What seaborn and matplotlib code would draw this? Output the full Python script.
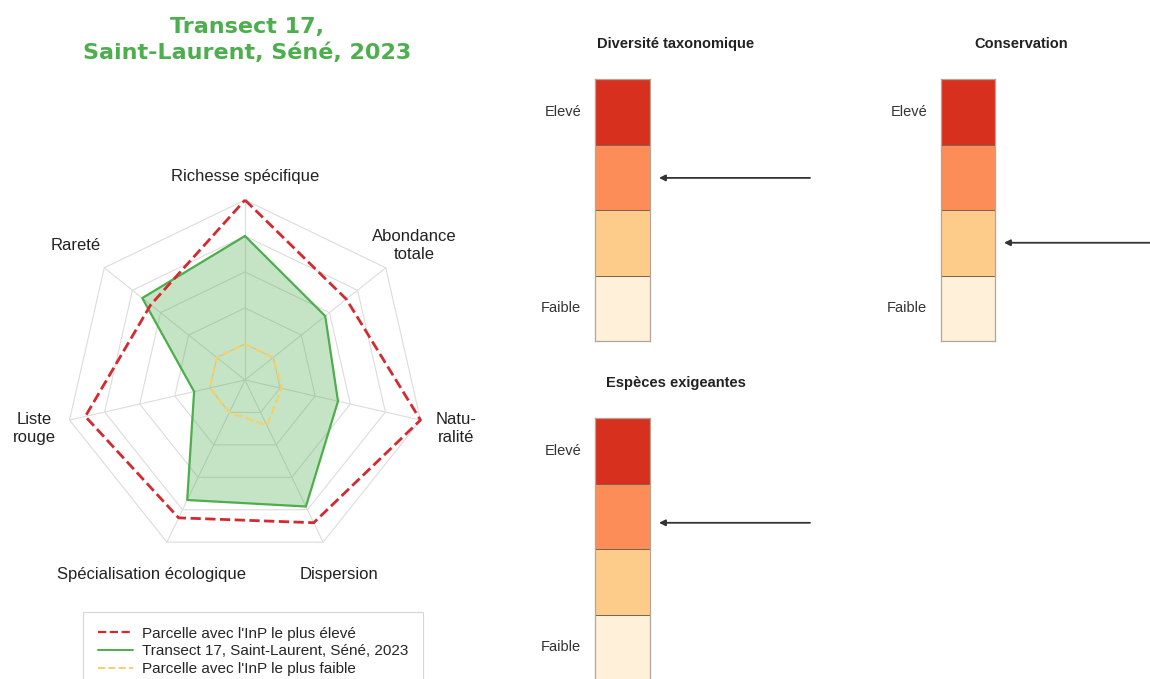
import numpy as np
import matplotlib
matplotlib.use("Agg")
import matplotlib.pyplot as plt
from matplotlib.colors import ListedColormap
from matplotlib.lines import Line2D
import seaborn as sns

# ---------------- data ----------------
title_text = "Transect 17,\nSaint-Laurent, Séné, 2023"
radar_labels = ["Richesse spécifique", "Abondance\ntotale", "Natu-\nralité", "Dispersion",
                "Spécialisation écologique", "Liste\nrouge", "Rareté"]
max_values = [1.00, 0.72, 1.00, 0.88, 0.85, 0.91, 0.67]
site_values = [0.80, 0.57, 0.53, 0.78, 0.74, 0.29, 0.73]
min_values = [0.20, 0.20, 0.21, 0.28, 0.20, 0.20, 0.20]
grid_levels = [0.2, 0.4, 0.6, 0.8, 1.0]

legend_labels = ["Parcelle avec l'InP le plus élevé",
                 "Transect 17, Saint-Laurent, Séné, 2023",
                 "Parcelle avec l'InP le plus faible"]

panel_titles = ["Diversité taxonomique", "Conservation", "Espèces exigeantes"]
scale_levels = [3, 2, 1, 0]            # top -> bottom
scale_ticklabels = ["Elevé", "", "", "Faible"]
scale_colors = ["#fef0d9", "#fdcc8a", "#fc8d59", "#d7301f"]  # low -> high
panel_scores = [2.49, 1.50, 2.40]      # position of arrow on 0-4 scale (from bottom)

# ---------------- style ----------------
sns.set_theme(style="white")
plt.rcParams["font.family"] = ["Liberation Sans", "DejaVu Sans"]

W, H = 1150, 679
fig = plt.figure(figsize=(W / 100, H / 100), dpi=100)


def px_rect(x0, y0, x1, y1):
    """pixel box (top-left origin) -> figure fraction rect"""
    return [x0 / W, 1 - y1 / H, (x1 - x0) / W, (y1 - y0) / H]


# ---------------- radar ----------------
cx, cy, R = 245, 380, 180
axr = fig.add_axes(px_rect(cx - 245, 150, cx + 245, 610))
axr.set_xlim(-245 / R, 245 / R)
axr.set_ylim(-230 / R, 230 / R)
axr.axis("off")

n = len(radar_labels)
theta = np.arange(n) * 2 * np.pi / n


def xy(vals):
    v = np.asarray(vals + vals[:1], dtype=float)
    t = np.append(theta, theta[0])
    return v * np.sin(t), v * np.cos(t)


grid_c = "#dcdcdc"
for lv in grid_levels:
    gx, gy = xy([lv] * n)
    axr.plot(gx, gy, color=grid_c, lw=0.8, zorder=1)
for t in theta:
    axr.plot([0, np.sin(t)], [0, np.cos(t)], color=grid_c, lw=0.8, zorder=1)

red = "#d42a2f"
green = "#4cae4c"
yellow = "#f6d06a"

sx, sy = xy(site_values)
axr.fill(sx, sy, color=green, alpha=0.32, lw=0, zorder=2)
axr.plot(sx, sy, color=green, lw=1.6, zorder=4)
mx, my = xy(max_values)
axr.plot(mx, my, color=red, lw=2.0, ls="--", zorder=5)
nx, ny = xy(min_values)
axr.plot(nx, ny, color=yellow, lw=1.6, ls="--", zorder=5)

for i, lab in enumerate(radar_labels):
    r = 1.2 if i != 0 else 1.13
    axr.text(r * np.sin(theta[i]), r * np.cos(theta[i]), lab, ha="center", va="center",
             fontsize=12, color="#222222", linespacing=1.25)

fig.text(247 / W, 1 - 40 / H, title_text, ha="center", va="center", fontsize=16,
         fontweight="bold", color=green, family="DejaVu Sans", linespacing=1.3)

handles = [Line2D([], [], color=red, lw=1.6, ls="--"),
           Line2D([], [], color=green, lw=1.4),
           Line2D([], [], color=yellow, lw=1.4, ls="--")]
leg = fig.legend(handles, legend_labels, loc="upper left",
                 bbox_to_anchor=(83 / W, 1 - 612 / H), borderaxespad=0,
                 fontsize=11, frameon=True,
                 fancybox=False, edgecolor="#cccccc", handlelength=2.3,
                 labelspacing=0.26, borderpad=0.95, handletextpad=0.6)
leg.get_frame().set_linewidth(0.8)

# ---------------- scale panels ----------------
cmap = ListedColormap(scale_colors)
panel_boxes = [(595, 79, 650, 341), (941, 79, 995, 341), (595, 418, 650, 680)]
data = np.array(scale_levels).reshape(-1, 1)

for title, box, score in zip(panel_titles, panel_boxes, panel_scores):
    ax = fig.add_axes(px_rect(*box))
    sns.heatmap(data, cmap=cmap, vmin=-0.5, vmax=3.5, cbar=False, ax=ax,
                linewidths=0.7, linecolor="#7d6352",
                xticklabels=False, yticklabels=scale_ticklabels)
    for side in ["left", "right", "top", "bottom"]:
        ax.spines[side].set_visible(True)
        ax.spines[side].set_color("#b3a597")
        ax.spines[side].set_linewidth(0.9)
    ax.tick_params(axis="y", length=0, pad=10, labelsize=10.5, labelcolor="#333333")
    for tl in ax.get_yticklabels():
        tl.set_rotation(0)
    bw = box[2] - box[0]
    ax.text(0.5 + 53 / bw, 1 + 35 / (box[3] - box[1]), title, transform=ax.transAxes,
            ha="center", va="center", fontsize=10.5, fontweight="bold", color="#222222")
    yv = len(scale_levels) - score
    ax.annotate("", xy=(1 + 9 / bw, yv), xytext=(1 + 160 / bw, yv),
                xycoords="data", textcoords="data", annotation_clip=False,
                arrowprops=dict(arrowstyle="-|>", color="#333333", lw=1.3,
                                mutation_scale=9, shrinkA=0, shrinkB=0))

fig.savefig("out.png", dpi=100)
